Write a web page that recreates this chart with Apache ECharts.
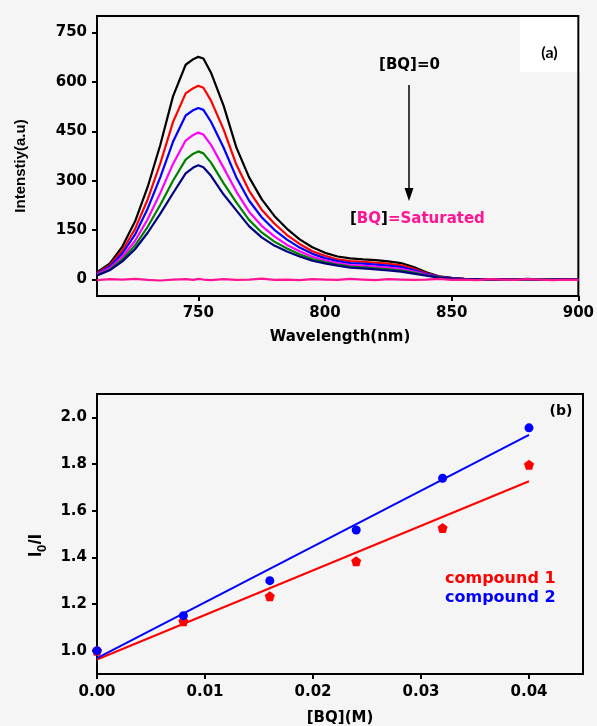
<!DOCTYPE html>
<html>
<head>
<meta charset="utf-8">
<script src="https://cdn.jsdelivr.net/npm/echarts@6/dist/echarts.min.js"></script>
<style>
  html, body { margin: 0; padding: 0; background: #f5f5f5; }
  #chart { width: 597px; height: 726px; }
</style>
</head>
<body>
<div id="chart"></div>
<script>
// (a) emission spectra at increasing [BQ]
const wavelengths = [710,715,720,725,730,735,740,745,748,750,752,755,760,765,770,775,780,785,790,795,800,805,810,815,820,825,830,835,840,845,850,855,860,865,870,875,880,885,890,895,900];
const specBlack   = [22,48,100,176,281,409,556,652,669,676,671,628,527,401,311,244,193,154,122,98,81,70,64,61,59,55,50,38,22,10,5,2,1,0,1,0,2,0,1,0,0];
const specRed     = [19,43,88,153,243,353,478,565,581,588,582,543,455,349,270,212,170,135,108,86,72,61,56,54,51,48,43,33,19,9,4,2,1,0,1,1,0,1,0,0,0];
const specBlue    = [17,39,79,136,215,311,418,498,514,521,515,479,400,310,240,189,151,121,97,78,65,56,50,48,45,42,38,29,17,8,4,1,1,0,0,1,0,1,0,1,0];
const specMagenta = [15,34,69,117,183,263,351,422,439,446,440,409,339,267,206,163,131,105,86,69,58,50,44,42,39,36,32,24,15,7,3,1,0,1,0,0,1,0,0,1,0];
const specGreen   = [13,30,61,103,160,227,300,364,382,389,383,355,292,234,181,143,115,94,77,62,53,45,39,37,34,31,27,21,13,7,3,1,0,0,1,0,0,1,0,0,1];
const specNavy    = [12,28,55,92,142,200,262,322,340,347,341,315,258,210,162,128,103,85,70,57,49,42,36,34,31,28,24,18,12,6,3,1,1,0,1,0,1,0,0,1,0];
const specSat     = [-2,1,0,2,-1,-3,0,1,-1,2,0,-2,1,-1,0,3,-1,0,-2,1,0,-1,2,0,-2,1,0,-1,0,2,-1,0,-2,1,0,-1,1,0,-2,0,-1];
const wlTicks = [750,800,850,900];
const intensityTicks = [0,150,300,450,600,750];

// (b) Stern-Volmer plot
const bqConc    = [0,0.008,0.016,0.024,0.032,0.04];
const compound1 = [1.0,1.126,1.233,1.383,1.526,1.797];
const compound2 = [1.0,1.15,1.30,1.517,1.739,1.955];
const fit1 = [[0,0.962],[0.04,1.726]];
const fit2 = [[0,0.968],[0.04,1.925]];
const bqTicks = [0,0.01,0.02,0.03,0.04];
const ratioTicks = [1.0,1.2,1.4,1.6,1.8,2.0];

const HFONT = 'DejaVu Sans';
const AFONT = 'Liberation Sans';

const pair = (xs, ys) => xs.map((x, i) => [x, ys[i]]);

function spectrum(values, color) {
  return {
    type: 'line', xAxisIndex: 0, yAxisIndex: 0,
    data: pair(wavelengths, values),
    showSymbol: false, smooth: false,
    lineStyle: { color, width: 2.2 },
    itemStyle: { color },
    silent: true, animation: false
  };
}

function axisCommon() {
  return {
    axisLine: { show: true, onZero: false, lineStyle: { color: '#000', width: 2 } },
    axisTick: { show: true, inside: false, length: 5, lineStyle: { color: '#000', width: 2 } },
    splitLine: { show: false },
    axisLabel: { color: '#000', fontFamily: HFONT, fontWeight: 'bold', fontSize: 15 }
  };
}

const chart = echarts.init(document.getElementById('chart'), null, { renderer: 'canvas' });

const xA = axisCommon(), yA = axisCommon(), xB = axisCommon(), yB = axisCommon();

const pentagon = 'path://M0,-10L9.5,-3.1L5.9,8.1L-5.9,8.1L-9.5,-3.1Z';

chart.setOption({
  backgroundColor: '#f5f5f5',
  animation: false,
  grid: [
    { left: 97, top: 16, width: 485, height: 280, show: true, borderColor: '#000', borderWidth: 2, backgroundColor: 'transparent' },
    { left: 97, top: 394, width: 486, height: 280, show: true, borderColor: '#000', borderWidth: 2, backgroundColor: 'transparent' }
  ],
  xAxis: [
    Object.assign(xA, {
      type: 'value', gridIndex: 0, min: 710, max: 900,
      axisTick: Object.assign(xA.axisTick, { customValues: wlTicks }),
      axisLabel: Object.assign(xA.axisLabel, { customValues: wlTicks, margin: 10 })
    }),
    Object.assign(xB, {
      type: 'value', gridIndex: 1, min: 0, max: 0.045,
      axisTick: Object.assign(xB.axisTick, { customValues: bqTicks }),
      axisLabel: Object.assign(xB.axisLabel, { customValues: bqTicks, margin: 11,
        formatter: v => v.toFixed(2) })
    })
  ],
  yAxis: [
    Object.assign(yA, {
      type: 'value', gridIndex: 0, min: -50, max: 800,
      axisTick: Object.assign(yA.axisTick, { customValues: intensityTicks }),
      axisLabel: Object.assign(yA.axisLabel, { customValues: intensityTicks, margin: 10 })
    }),
    Object.assign(yB, {
      type: 'value', gridIndex: 1, min: 0.9, max: 2.1,
      axisTick: Object.assign(yB.axisTick, { customValues: ratioTicks }),
      axisLabel: Object.assign(yB.axisLabel, { customValues: ratioTicks, margin: 10,
        formatter: v => v.toFixed(1) })
    })
  ],
  series: [
    spectrum(specBlack, '#000000'),
    spectrum(specRed, '#ff0000'),
    spectrum(specBlue, '#0000ff'),
    spectrum(specMagenta, '#ff00ff'),
    spectrum(specGreen, '#008000'),
    spectrum(specNavy, '#000080'),
    spectrum(specSat, '#ff1493'),
    {
      type: 'line', xAxisIndex: 1, yAxisIndex: 1, data: fit1,
      showSymbol: false, lineStyle: { color: '#ff0000', width: 2 }, silent: true
    },
    {
      type: 'line', xAxisIndex: 1, yAxisIndex: 1, data: fit2,
      showSymbol: false, lineStyle: { color: '#0000ff', width: 2 }, silent: true
    },
    {
      type: 'scatter', xAxisIndex: 1, yAxisIndex: 1, data: pair(bqConc, compound1),
      symbol: pentagon, symbolSize: 10, itemStyle: { color: '#ff0000', opacity: 1 }, clip: false, silent: true
    },
    {
      type: 'scatter', xAxisIndex: 1, yAxisIndex: 1, data: pair(bqConc, compound2),
      symbol: 'circle', symbolSize: 9, itemStyle: { color: '#0000ff', opacity: 1 }, clip: false, silent: true
    }
  ],
  graphic: [
    // panel (a) annotations
    { type: 'rect', shape: { x: 520, y: 17, width: 61, height: 55 }, style: { fill: '#ffffff' }, z: -1, silent: true },
    { type: 'text', x: 549.5, y: 52.5, style: { text: '(a)', font: 'bold 16px Lato', fill: '#000', align: 'center', verticalAlign: 'middle' } },
    { type: 'text', x: 409.5, y: 65, style: { text: '[BQ]=0', font: 'bold 15px "' + HFONT + '"', fill: '#000', align: 'center', verticalAlign: 'middle' } },
    { type: 'line', shape: { x1: 409, y1: 85, x2: 409, y2: 190 }, style: { stroke: '#000', lineWidth: 1.5 } },
    { type: 'polygon', shape: { points: [[404.5, 188], [413.5, 188], [409, 201]] }, style: { fill: '#000' } },
    { type: 'text', x: 350, y: 219, style: {
        text: '{k|[}{p|BQ}{k|]}{p|=Saturated}', align: 'left', verticalAlign: 'middle',
        rich: {
          k: { fill: '#000', fontFamily: HFONT, fontWeight: 'bold', fontSize: 15 },
          p: { fill: '#ff1493', fontFamily: HFONT, fontWeight: 'bold', fontSize: 15 }
        } } },
    { type: 'text', x: 21, y: 166, rotation: Math.PI / 2, style: { text: 'Intenstiy(a.u)', font: 'bold 15px "' + AFONT + '"', fill: '#000', align: 'center', verticalAlign: 'middle' } },
    { type: 'text', x: 340, y: 337, style: { text: 'Wavelength(nm)', font: 'bold 15px "' + HFONT + '"', fill: '#000', align: 'center', verticalAlign: 'middle' } },
    // panel (b) annotations
    { type: 'text', x: 561, y: 411, style: { text: '(b)', font: 'bold 14px "' + HFONT + '"', fill: '#000', align: 'center', verticalAlign: 'middle' } },
    { type: 'text', x: 445, y: 579, style: { text: 'compound 1', font: 'bold 16px "' + HFONT + '"', fill: '#ff0000', align: 'left', verticalAlign: 'middle' } },
    { type: 'text', x: 445, y: 598, style: { text: 'compound 2', font: 'bold 16px "' + HFONT + '"', fill: '#0000ff', align: 'left', verticalAlign: 'middle' } },
    { type: 'text', x: 340, y: 718, style: { text: '[BQ](M)', font: 'bold 15px "' + HFONT + '"', fill: '#000', align: 'center', verticalAlign: 'middle' } },
    {
      type: 'group', x: 36, y: 546, rotation: Math.PI / 2,
      children: [
        { type: 'text', x: -11, y: 0, style: { text: 'I', font: 'bold 19px "' + AFONT + '"', fill: '#000', align: 'left', verticalAlign: 'middle' } },
        { type: 'text', x: -6, y: 6, style: { text: '0', font: 'bold 13px "' + AFONT + '"', fill: '#000', align: 'left', verticalAlign: 'middle' } },
        { type: 'text', x: 1.5, y: 0, style: { text: '/I', font: 'bold 19px "' + AFONT + '"', fill: '#000', align: 'left', verticalAlign: 'middle' } }
      ]
    }
  ]
});
</script>
</body>
</html>
